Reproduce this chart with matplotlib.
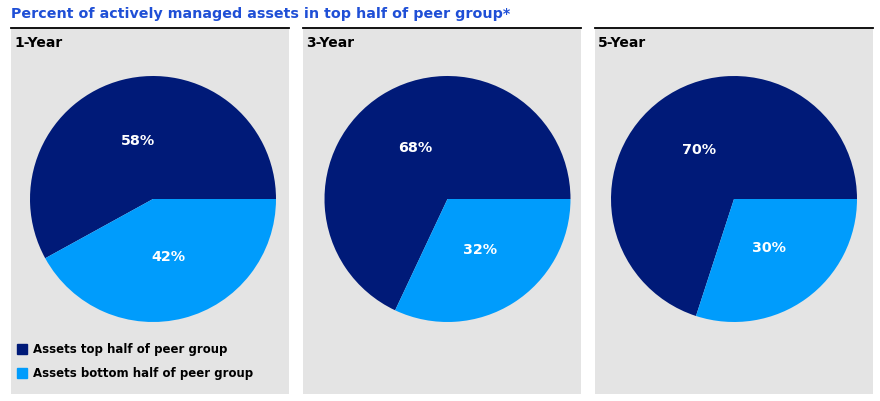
import matplotlib
matplotlib.use('Agg')
from matplotlib import pyplot as plt
from matplotlib.patches import Rectangle

periods = ['1-Year', '3-Year', '5-Year']
top_half = [58, 68, 70]
bottom_half = [42, 32, 30]
series_names = ['Assets top half of peer group', 'Assets bottom half of peer group']

title = 'Percent of actively managed assets in top half of peer group*'

DARK = '#001a78'
LIGHT = '#009cfc'
PANEL = '#e4e4e4'
TITLE_BLUE = '#1f4fd6'

W, H = 880, 401

def px(x, y, w, h):
  # pixel box (top-left origin) -> figure fraction
  return [x / W, 1 - (y + h) / H, w / W, h / H]

def main():
  plt.rcParams['font.family'] = ['DejaVu Sans']
  fig = plt.figure(figsize=(W / 100, H / 100), dpi=100)
  fig.patch.set_facecolor('white')

  fig.text(11 / W, 1 - 14 / H, title, color=TITLE_BLUE, fontsize=10.25,
           fontweight='bold', ha='left', va='center')

  panel_x = [11, 303, 595]
  panel_w = 278
  pie_cx = [153, 447.5, 734]
  r = 123
  cy = 199

  for i, name in enumerate(periods):
    # gray panel with black top rule
    pax = fig.add_axes(px(panel_x[i], 28, panel_w, 366))
    pax.set_facecolor(PANEL)
    pax.set_xticks([])
    pax.set_yticks([])
    for s in ['left', 'right', 'bottom']:
      pax.spines[s].set_visible(False)
    pax.spines['top'].set_color('black')
    pax.spines['top'].set_linewidth(1.3)
    pax.text(3 / panel_w, 1 - 15 / 366, name, transform=pax.transAxes,
             fontsize=10, fontweight='bold', ha='left', va='center')

    ax = fig.add_axes(px(pie_cx[i] - r, cy - r, 2 * r, 2 * r))
    vals = [top_half[i], bottom_half[i]]
    wedges, texts = ax.pie(vals, colors=[DARK, LIGHT], startangle=0,
                           counterclock=True, labels=['%d%%' % v for v in vals],
                           labeldistance=0.49,
                           wedgeprops=dict(linewidth=0))
    for t in texts:
      t.set_color('white')
      t.set_fontweight('bold')
      t.set_fontsize(10.3)
      t.set_ha('center')
      t.set_va('center')
    ax.set_xlim(-1, 1)
    ax.set_ylim(-1, 1)
    ax.set_aspect('equal')
    ax.axis('off')

    if i == 0:
      colors = [DARK, LIGHT]
      ys = [349, 373]
      for c, y, lab in zip(colors, ys, series_names):
        fig.patches.append(Rectangle((17 / W, 1 - (y + 5) / H), 10 / W, 10 / H,
                                     transform=fig.transFigure, color=c))
        fig.text(33 / W, 1 - y / H, lab, fontsize=8.5, fontweight='bold',
                 ha='left', va='center')

  plt.savefig('out.png', dpi=100)

if __name__ == '__main__':
  main()
